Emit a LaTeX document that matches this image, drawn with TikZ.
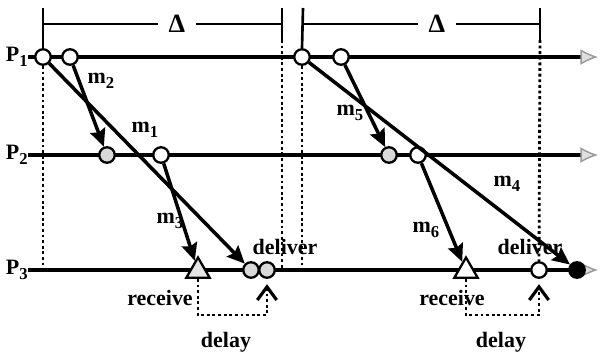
\documentclass[tikz,border=0pt]{standalone}
\usepackage{fontspec}
\setmainfont{Liberation Serif}
\usetikzlibrary{arrows.meta, shapes.geometric}
\newcommand{\msub}[1]{\raisebox{-.55ex}{\fontsize{9.5}{9.5}\selectfont #1}}
\tikzset{
  ev/.style={draw, line width=1.3pt, circle, minimum size=0.31cm, inner sep=0pt, fill=white},
  evgray/.style={ev, fill=gray!30},
  evblack/.style={ev, fill=black},
  recv/.style={draw, line width=1.3pt, regular polygon, regular polygon sides=3,
    minimum size=0.54cm, inner sep=0pt, fill=white},
  proc/.style={line width=2pt,
    -{Latex[length=10pt, width=9pt, fill=gray!25, color=gray!80, line width=0.8pt]}},
  msg/.style={line width=2pt, -{Stealth[length=10pt, width=9pt, inset=1.5pt]}},
  guide/.style={line width=1.6pt, dash pattern=on 1.6pt off 1.6pt},
  tick/.style={line width=1.5pt},
  delayline/.style={guide, shorten >=3pt,
    -{Straight Barb[length=7.5pt, width=11pt, line width=1.8pt]}},
  lbl/.style={font=\bfseries\fontsize{12.5}{14}\selectfont, inner sep=0pt},
}

\begin{document}
\begin{tikzpicture}[x=0.02cm, y=-0.02cm]
\useasboundingbox (0,0) rectangle (601,355);

% ── Process lines ─────────────────────────────────
\foreach \n/\y in {1/57, 2/155, 3/270} {
  \coordinate (s\n) at (28,\y);
  \coordinate (e\n) at (598,\y);
  \node[lbl, anchor=east] (p\n) at (s\n) {P\msub{\n}};
  \draw[proc] (s\n) -- (e\n);
}

% ── Events, first window ──────────────────────────
\node[ev] (a1) at (43,57) {};
\node[ev] (a2) at (70,57) {};
\node[evgray] (b1) at (107,155) {};
\node[ev] (b2) at (161,155) {};
\node[recv, fill=gray!20] (r1) at (198,271) {};
\node[evgray] (c1) at (251,270) {};
\node[evgray] (c2) at (267,270) {};

% ── Events, second window ─────────────────────────
\node[ev] (a3) at (302,57) {};
\node[ev] (a4) at (341,57) {};
\node[evgray] (b3) at (389,155) {};
\node[ev] (b4) at (418,155) {};
\node[recv] (r2) at (466,271) {};
\node[ev] (d2) at (539,270) {};
\node[evblack] (c3) at (577,270) {};

% ── Delta windows ─────────────────────────────────
\coordinate (dA) at (43,24);
\coordinate (dB) at (282,24);
\coordinate (dC) at (303,24);
\coordinate (dD) at (540,24);
\draw[tick] (dA) -- node[lbl, font=\bfseries\fontsize{15}{16}\selectfont, fill=white,
  inner sep=6pt, pos=0.56] (delta1) {Δ} (dB);
\draw[tick] (dC) -- node[lbl, font=\bfseries\fontsize{15}{16}\selectfont, fill=white,
  inner sep=6pt, pos=0.565] (delta2) {Δ} (dD);

\draw[tick] (43,8) -- (a1.north);
\draw[tick] (282,8) -- (282,40);
\draw[tick] (303,8) -- (a3.north);
\draw[tick] (540,8) -- (540,40);

\draw[guide] (a1.south) -- (a1.south |- s3);
\draw[guide] (282,40) -- (282,270);
\draw[guide] (a3.south) -- (a3.south |- s3);
\draw[guide] (540,40) -- (d2.north);

% ── Messages ──────────────────────────────────────
\draw[msg] (a1) -- (c1);
\draw[msg] (a2) -- (b1);
\draw[msg] (b2) -- (r1);
\draw[msg] (a3) -- (c3);
\draw[msg] (a4) -- (b3);
\draw[msg] (b4) -- (r2);

\node[lbl] (lm1) at (145,130) {m\msub{1}};
\node[lbl] (lm2) at (101,81) {m\msub{2}};
\node[lbl] (lm3) at (170,221) {m\msub{3}};
\node[lbl] (lm4) at (507,184) {m\msub{4}};
\node[lbl] (lm5) at (350,113) {m\msub{5}};
\node[lbl] (lm6) at (426,230) {m\msub{6}};

% ── Delays ────────────────────────────────────────
\coordinate (dy) at (0,315);
\draw[delayline] (r1.south) -- (r1.south |- dy) -| (c2.south);
\draw[delayline] (r2.south) -- (r2.south |- dy) -| (d2.south);

\node[lbl] (dl1) at (285,247) {deliver};
\node[lbl] (dl2) at (530,247) {deliver};
\node[lbl] (rc1) at (160,298) {receive};
\node[lbl] (rc2) at (452,298) {receive};
\node[lbl] (dy1) at (226,342) {delay};
\node[lbl] (dy2) at (501,342) {delay};

\end{tikzpicture}
\end{document}
